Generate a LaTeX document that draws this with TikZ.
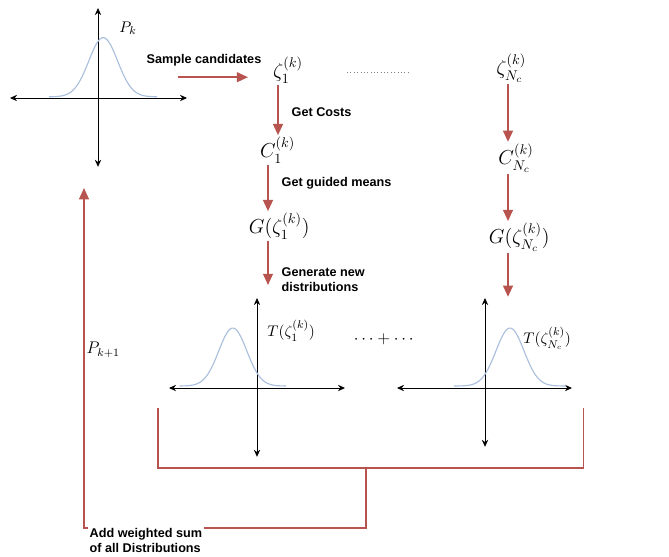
\documentclass[tikz,border=0pt]{standalone}
\usepackage{amsmath,amssymb}
\usepackage{fontspec}
\newfontfamily\lblfont{Liberation Sans}
\usepackage{tikz}
\usetikzlibrary{arrows.meta,calc,positioning}
\definecolor{flowred}{HTML}{B85450}
\definecolor{bellblue}{HTML}{A9BFDD}
\tikzset{
  axis/.style={{Stealth[length=5pt,width=4.5pt]}-{Stealth[length=5pt,width=4.5pt]},line width=0.6pt},
  flow/.style={-{Triangle[width=7pt,length=8pt]},flowred,line width=1.3pt},
  sumline/.style={flowred,line width=1pt},
  bell/.style={bellblue,line width=0.8pt,smooth,samples=60},
  lbl/.style={font=\lblfont\bfseries\fontsize{9}{10.7}\selectfont,align=left,inner sep=1pt},
  sym/.style={font=\fontsize{14}{16}\selectfont,inner sep=1pt},
  smallsym/.style={font=\fontsize{11}{13}\selectfont,inner sep=1pt}
}

\begin{document}
\begin{tikzpicture}
  \useasboundingbox (0,0) rectangle (16.725,-13.9);
  % Current distribution
  \draw[axis] (0.25,-2.45) -- (4.675,-2.45);
  \draw[axis] (2.45,-0.2) -- (2.45,-4.17);
  \draw[bell,domain=-1.35:1.35] plot ({2.58+\x},{-2.42+1.48*exp(-\x*\x/(2*0.36*0.36))});
  \node[smallsym] (pk) at (3.2,-0.7) {$P_k$};
  % Candidates
  \node[lbl] (sample) at (5.1,-1.5) {Sample candidates};
  \node[sym] (zeta1) at (7.2,-1.75) {$\zeta_1^{(k)}$};
  \node[sym] (zetaN) at (12.78,-1.7) {$\zeta_{N_c}^{(k)}$};
  \coordinate (sampstart) at (4.45,-1.93);
  \coordinate (sampend) at (6.2,-1.93);
  \draw[flow] (sampstart) -- (sampend);
  \coordinate (dotsL) at (8.675,-1.8);
  \coordinate (dotsR) at (10.275,-1.8);
  \draw[gray,dotted] (dotsL) -- (dotsR);
  % First column
  \coordinate (colA) at (6.95,0);
  \coordinate (colB) at (6.7,0);
  \node[sym] (cost1) at (6.94,-3.75) {$C_1^{(k)}$};
  \node[sym] (guide1) at (6.98,-5.65) {$G(\zeta_1^{(k)})$};
  \coordinate (gen1) at (6.7,-7.125);
  \draw[flow] (zeta1.south -| colA) -- (cost1.north -| colA);
  \draw[flow] (cost1.south -| colB) -- (guide1.north -| colB);
  \draw[flow] (guide1.south -| colB) -- (gen1);
  \node[lbl,anchor=west] (costtxt) at (7.25,-2.8) {Get Costs};
  \node[lbl,anchor=west] (guidetxt) at (7.0,-4.575) {Get guided means};
  \node[lbl,anchor=west] (gentxt) at (7.0,-7.0) {Generate new\\distributions};
  % Last column
  \coordinate (colN) at (12.7,0);
  \node[sym] (costN) at (12.9,-3.95) {$C_{N_c}^{(k)}$};
  \node[sym] (guideN) at (12.98,-5.93) {$G(\zeta_{N_c}^{(k)})$};
  \coordinate (genN) at (12.7,-7.42);
  \draw[flow] (zetaN.south -| colN) -- (costN.north -| colN);
  \draw[flow] (costN.south -| colN) -- (guideN.north -| colN);
  \draw[flow] (guideN.south -| colN) -- (genN);
  % New distributions
  \draw[axis] (4.225,-9.7) -- (8.625,-9.7);
  \draw[axis] (6.425,-7.45) -- (6.425,-11.42);
  \draw[bell,domain=-1.33:1.33] plot ({5.82+\x},{-9.65+1.45*exp(-\x*\x/(2*0.35*0.35))});
  \node[smallsym] (trans1) at (7.28,-8.27) {$T(\zeta_1^{(k)})$};
  \node[font=\fontsize{12}{14}\selectfont,inner sep=1pt] (plus) at (9.63,-8.48) {$\cdots+\cdots$};
  \draw[axis] (9.925,-9.7) -- (14.3,-9.7);
  \draw[axis] (12.125,-7.45) -- (12.125,-11.17);
  \draw[bell,domain=-1.4:1.4] plot ({12.75+\x},{-9.65+1.45*exp(-\x*\x/(2*0.35*0.35))});
  \node[smallsym] (transN) at (13.68,-8.45) {$T(\zeta_{N_c}^{(k)})$};
  % Weighted sum and feedback
  \coordinate (brL) at (3.95,-10.2);
  \coordinate (brLb) at (3.95,-11.7);
  \coordinate (brRb) at (14.58,-11.7);
  \coordinate (brR) at (14.58,-10.2);
  \draw[sumline] (brL) -- (brLb) -- (brRb) -- (brR);
  \coordinate (stemtop) at (9.15,-11.7);
  \coordinate (stembot) at (9.15,-13.2);
  \node[lbl,anchor=north west] (sumtxt) at (2.2,-13.17) {Add weighted sum\\of all Distributions};
  \draw[sumline] (stemtop) -- (stembot) -- (stembot -| sumtxt.east);
  \coordinate (feedbot) at (2.1,-13.2);
  \coordinate (pnext) at (2.1,-4.7);
  \draw[flow,line width=1pt] (stembot -| sumtxt.west) -- (feedbot) -- (pnext);
  \node[font=\fontsize{12}{14}\selectfont,inner sep=1pt] (pk1) at (2.58,-8.75) {$P_{k+1}$};
\end{tikzpicture}
\end{document}
